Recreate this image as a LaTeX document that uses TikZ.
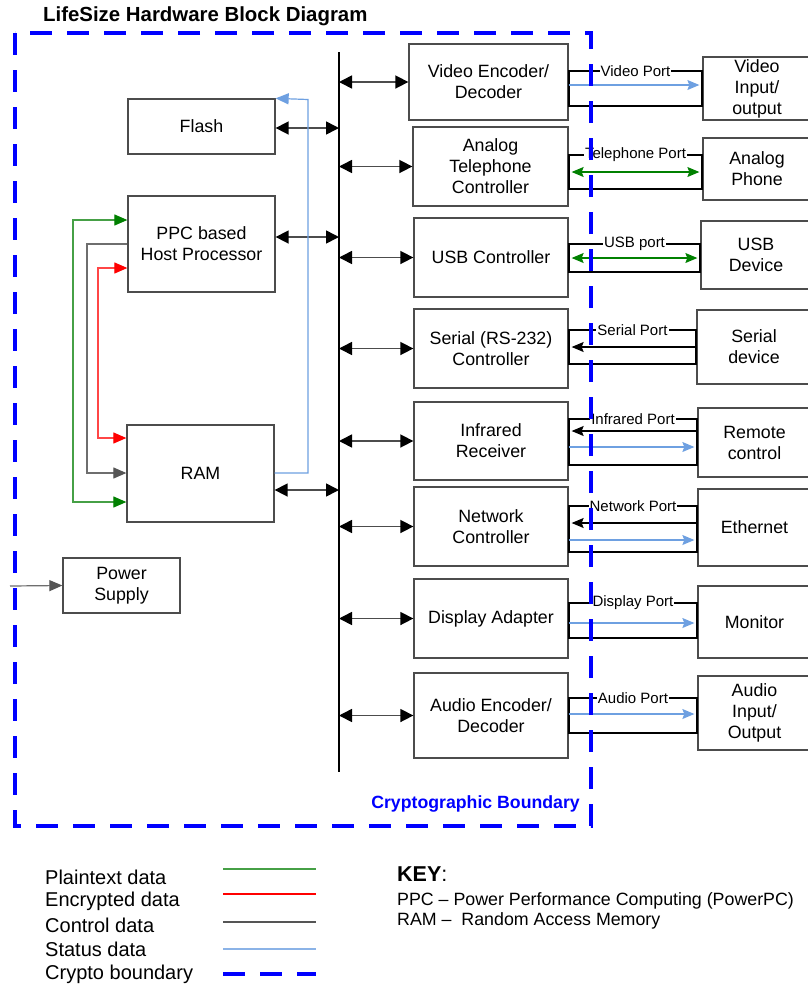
\documentclass[tikz,border=0pt]{standalone}
\usepackage{fontspec}
\setmainfont{Liberation Sans}
\usetikzlibrary{arrows.meta}
\definecolor{pgreen}{RGB}{0,128,0}
\definecolor{lgreen}{RGB}{70,160,70}
\definecolor{pred}{RGB}{255,0,0}
\definecolor{lred}{RGB}{255,70,70}
\definecolor{cgray}{RGB}{85,85,85}
\definecolor{lgray}{RGB}{110,110,110}
\definecolor{sblue}{RGB}{110,160,225}
\definecolor{cblue}{RGB}{0,0,255}
\tikzset{
  box/.style={draw=black!70, line width=1.3pt, fill=white, align=center, inner sep=0pt,
    font=\fontsize{17.8}{21}\selectfont},
  port/.style={draw=black, line width=2.2pt},
  portlabel/.style={fill=white, inner sep=1pt, font=\fontsize{15}{17}\selectfont},
  busarrow/.style={draw=black!70, line width=1.6pt,
    {Triangle[length=13pt,width=13pt,color=black]}-{Triangle[length=13pt,width=13pt,color=black]}},
  plainloop/.style={draw=lgreen, line width=1.2pt, {Triangle[length=13pt,width=11pt,color=pgreen]}-{Triangle[length=13pt,width=11pt,color=pgreen]}},
  encloop/.style={draw=lred, line width=1.2pt, {Triangle[length=13pt,width=11pt,color=pred]}-{Triangle[length=13pt,width=11pt,color=pred]}},
  ctrlloop/.style={draw=lgray, line width=1.2pt, -{Triangle[length=13pt,width=11pt,color=cgray]}},
  statloop/.style={draw=sblue, line width=1.2pt, -{Triangle[length=13pt,width=11pt,color=sblue]}},
  stato/.style={draw=sblue, line width=1.1pt, -{Stealth[length=12pt,width=10pt,inset=2pt]}, shorten >=3pt},
  plaino/.style={draw=pgreen, line width=1.1pt, {Stealth[length=12pt,width=10pt,inset=2pt]}-{Stealth[length=12pt,width=10pt,inset=2pt]}, shorten >=3pt, shorten <=3pt},
  ctrlin/.style={draw=black, line width=1.1pt, -{Stealth[length=12pt,width=10pt,inset=2pt]}, shorten >=3pt},
  legendtext/.style={anchor=west, inner sep=0pt, font=\fontsize{20}{24}\selectfont},
  keytext/.style={anchor=west, inner sep=0pt, font=\fontsize{17.8}{20}\selectfont},
  crypto/.style={draw=cblue, line width=3.2pt, dash pattern=on 22pt off 15pt},
}
\begin{document}
\begin{tikzpicture}[x=1pt,y=-1pt]
\path[use as bounding box, fill=white] (0,0) rectangle (807,986);

% title
\node[anchor=west, inner sep=0pt, font=\fontsize{20.4}{23}\selectfont\bfseries] (title) at (43,16) {LifeSize Hardware Block Diagram};

% bus
\coordinate (bustop) at (339,52);
\coordinate (busbot) at (339,772);
\draw[black, line width=2pt] (bustop) -- (busbot);

% left boxes
\node[box, minimum width=147pt, minimum height=55pt] (flash) at (201.5,126.5) {Flash};
\node[box, minimum width=147pt, minimum height=96pt] (ppc) at (201.5,244) {PPC based\\Host Processor};
\node[box, minimum width=147pt, minimum height=97pt] (ram) at (200.5,473.5) {RAM};
\node[box, minimum width=117pt, minimum height=55pt] (power) at (121.5,585.5) {Power\\Supply};

% controller boxes
\node[box, minimum width=159pt, minimum height=76pt] (video) at (488.5,82) {Video Encoder/\\Decoder};
\node[box, minimum width=155pt, minimum height=79pt] (tel) at (490.5,166.5) {Analog\\Telephone\\Controller};
\node[box, minimum width=154pt, minimum height=79pt] (usb) at (491,257.5) {USB Controller};
\node[box, minimum width=154pt, minimum height=79pt] (serial) at (491,348.5) {Serial (RS-232)\\Controller};
\node[box, minimum width=154pt, minimum height=78pt] (ir) at (491,441) {Infrared\\Receiver};
\node[box, minimum width=154pt, minimum height=79pt] (net) at (491,526.5) {Network\\Controller};
\node[box, minimum width=154pt, minimum height=79pt] (disp) at (491,618.5) {Display Adapter};
\node[box, minimum width=154pt, minimum height=85pt] (audio) at (491,715.5) {Audio Encoder/\\Decoder};

% external boxes
\node[box, minimum width=108pt, minimum height=63pt] (vio) at (757,88.5) {Video\\Input/\\output};
\node[box, minimum width=108pt, minimum height=62pt] (phone) at (757,169) {Analog\\Phone};
\node[box, minimum width=110pt, minimum height=68pt] (usbdev) at (756,255) {USB\\Device};
\node[box, minimum width=114pt, minimum height=74pt] (serdev) at (754,347) {Serial\\device};
\node[box, minimum width=113pt, minimum height=69pt] (remote) at (754.5,442.5) {Remote\\control};
\node[box, minimum width=113pt, minimum height=77pt] (eth) at (754.5,527.5) {Ethernet};
\node[box, minimum width=113pt, minimum height=72pt] (monitor) at (754.5,622) {Monitor};
\node[box, minimum width=113pt, minimum height=74pt] (audioio) at (754.5,713) {Audio\\Input/\\Output};

% bus arrows, left side
\draw[busarrow] (flash.east |- 0,128) -- (bustop |- 0,128);
\draw[busarrow] (ppc.east |- 0,237) -- (bustop |- 0,237);
\draw[busarrow] (ram.east |- 0,490) -- (bustop |- 0,490);
% bus arrows, right side
\foreach \n in {video,tel,usb,serial,ir,net,disp,audio}
  \draw[busarrow] (bustop |- \n.west) -- (\n.west);

% loops between PPC and RAM
\draw[plainloop] (ppc.west |- 0,220) -- (73,220) -- (73,502) -- (ram.west |- 0,502);
\draw[ctrlloop] (ppc.west |- 0,244) -- (87,244) -- (87,473) -- (ram.west |- 0,473);
\draw[encloop] (ppc.west |- 0,268) -- (98,268) -- (98,438) -- (ram.west |- 0,438);
\coordinate (stcorner) at (308,99.5);
\draw[statloop] (ram.east |- 0,473) -| (stcorner) -- (flash.north east);

% power
\coordinate (pwrin) at (10,586);
\draw[ctrlloop] (pwrin) -- (power.west);

% ports
\draw[port] (video.east |- 0,71) rectangle (vio.west |- 0,106);
\draw[stato] (video.east |- 0,85) -- (vio.west |- 0,85);
\path (video.east |- 0,71) -- (vio.west |- 0,71) node[portlabel, midway] {Video Port};

\draw[port] (tel.east |- 0,155) rectangle (phone.west |- 0,189);
\draw[plaino] (tel.east |- 0,172) -- (phone.west |- 0,172);
\path (tel.east |- 0,155) -- (phone.west |- 0,155) node[portlabel, midway] {Telephone Port};

\draw[port] (usb.east |- 0,244) rectangle (usbdev.west |- 0,272);
\draw[plaino] (usb.east |- 0,258) -- (usbdev.west |- 0,258);
\path (usb.east |- 0,244) -- (usbdev.west |- 0,244) node[portlabel, midway] {USB port};

\draw[port] (serial.east |- 0,330) rectangle (serdev.west |- 0,364);
\draw[ctrlin] (serdev.west |- 0,347) -- (serial.east |- 0,347);
\path (serial.east |- 0,330) -- (serdev.west |- 0,330) node[portlabel, midway] {Serial Port};

\draw[port] (ir.east |- 0,419) rectangle (remote.west |- 0,465);
\draw[ctrlin] (remote.west |- 0,431) -- (ir.east |- 0,431);
\draw[stato] (ir.east |- 0,447) -- (remote.west |- 0,447);
\path (ir.east |- 0,419) -- (remote.west |- 0,419) node[portlabel, midway] {Infrared Port};

\draw[port] (net.east |- 0,506) rectangle (eth.west |- 0,552);
\draw[ctrlin] (eth.west |- 0,523) -- (net.east |- 0,523);
\draw[stato] (net.east |- 0,540) -- (eth.west |- 0,540);
\path (net.east |- 0,506) -- (eth.west |- 0,506) node[portlabel, midway] {Network Port};

\draw[port] (disp.east |- 0,603) rectangle (monitor.west |- 0,638);
\draw[stato] (disp.east |- 0,623) -- (monitor.west |- 0,623);
\path (disp.east |- 0,603) -- (monitor.west |- 0,603) node[portlabel, midway] {Display Port};

\draw[port] (audio.east |- 0,698) rectangle (audioio.west |- 0,733);
\draw[stato] (audio.east |- 0,714) -- (audioio.west |- 0,714);
\path (audio.east |- 0,698) -- (audioio.west |- 0,698) node[portlabel, midway] {Audio Port};

% crypto boundary
\draw[crypto] (15,33) rectangle (591,826);
\node[anchor=east, inner sep=0pt, text=cblue, font=\fontsize{17.7}{20}\selectfont\bfseries] (cblabel) at (580,804) {Cryptographic Boundary};

% legend
\node[legendtext] (lg1) at (45,877) {Plaintext data};
\node[legendtext] (lg2) at (45,901) {Encrypted data};
\node[legendtext] (lg3) at (45,925) {Control data};
\node[legendtext] (lg4) at (45,949) {Status data};
\node[legendtext] (lg5) at (45,974) {Crypto boundary};
\draw[lgreen, line width=1.2pt] (223,869) -- (316,869);
\draw[pred, line width=1.2pt] (223,894) -- (316,894);
\draw[cgray, line width=1.2pt] (223,922) -- (316,922);
\draw[sblue!80, line width=1.2pt] (223,949) -- (316,949);
\draw[crypto] (223,974) -- (316,974);

% key
\node[anchor=west, inner sep=0pt, font=\fontsize{21.5}{24}\selectfont] (key) at (397,874) {\textbf{KEY}:};
\node[keytext] (key1) at (397,901) {PPC – Power Performance Computing (PowerPC)};
\node[keytext] (key2) at (397,921) {RAM –\ \ Random Access Memory};
\end{tikzpicture}
\end{document}
